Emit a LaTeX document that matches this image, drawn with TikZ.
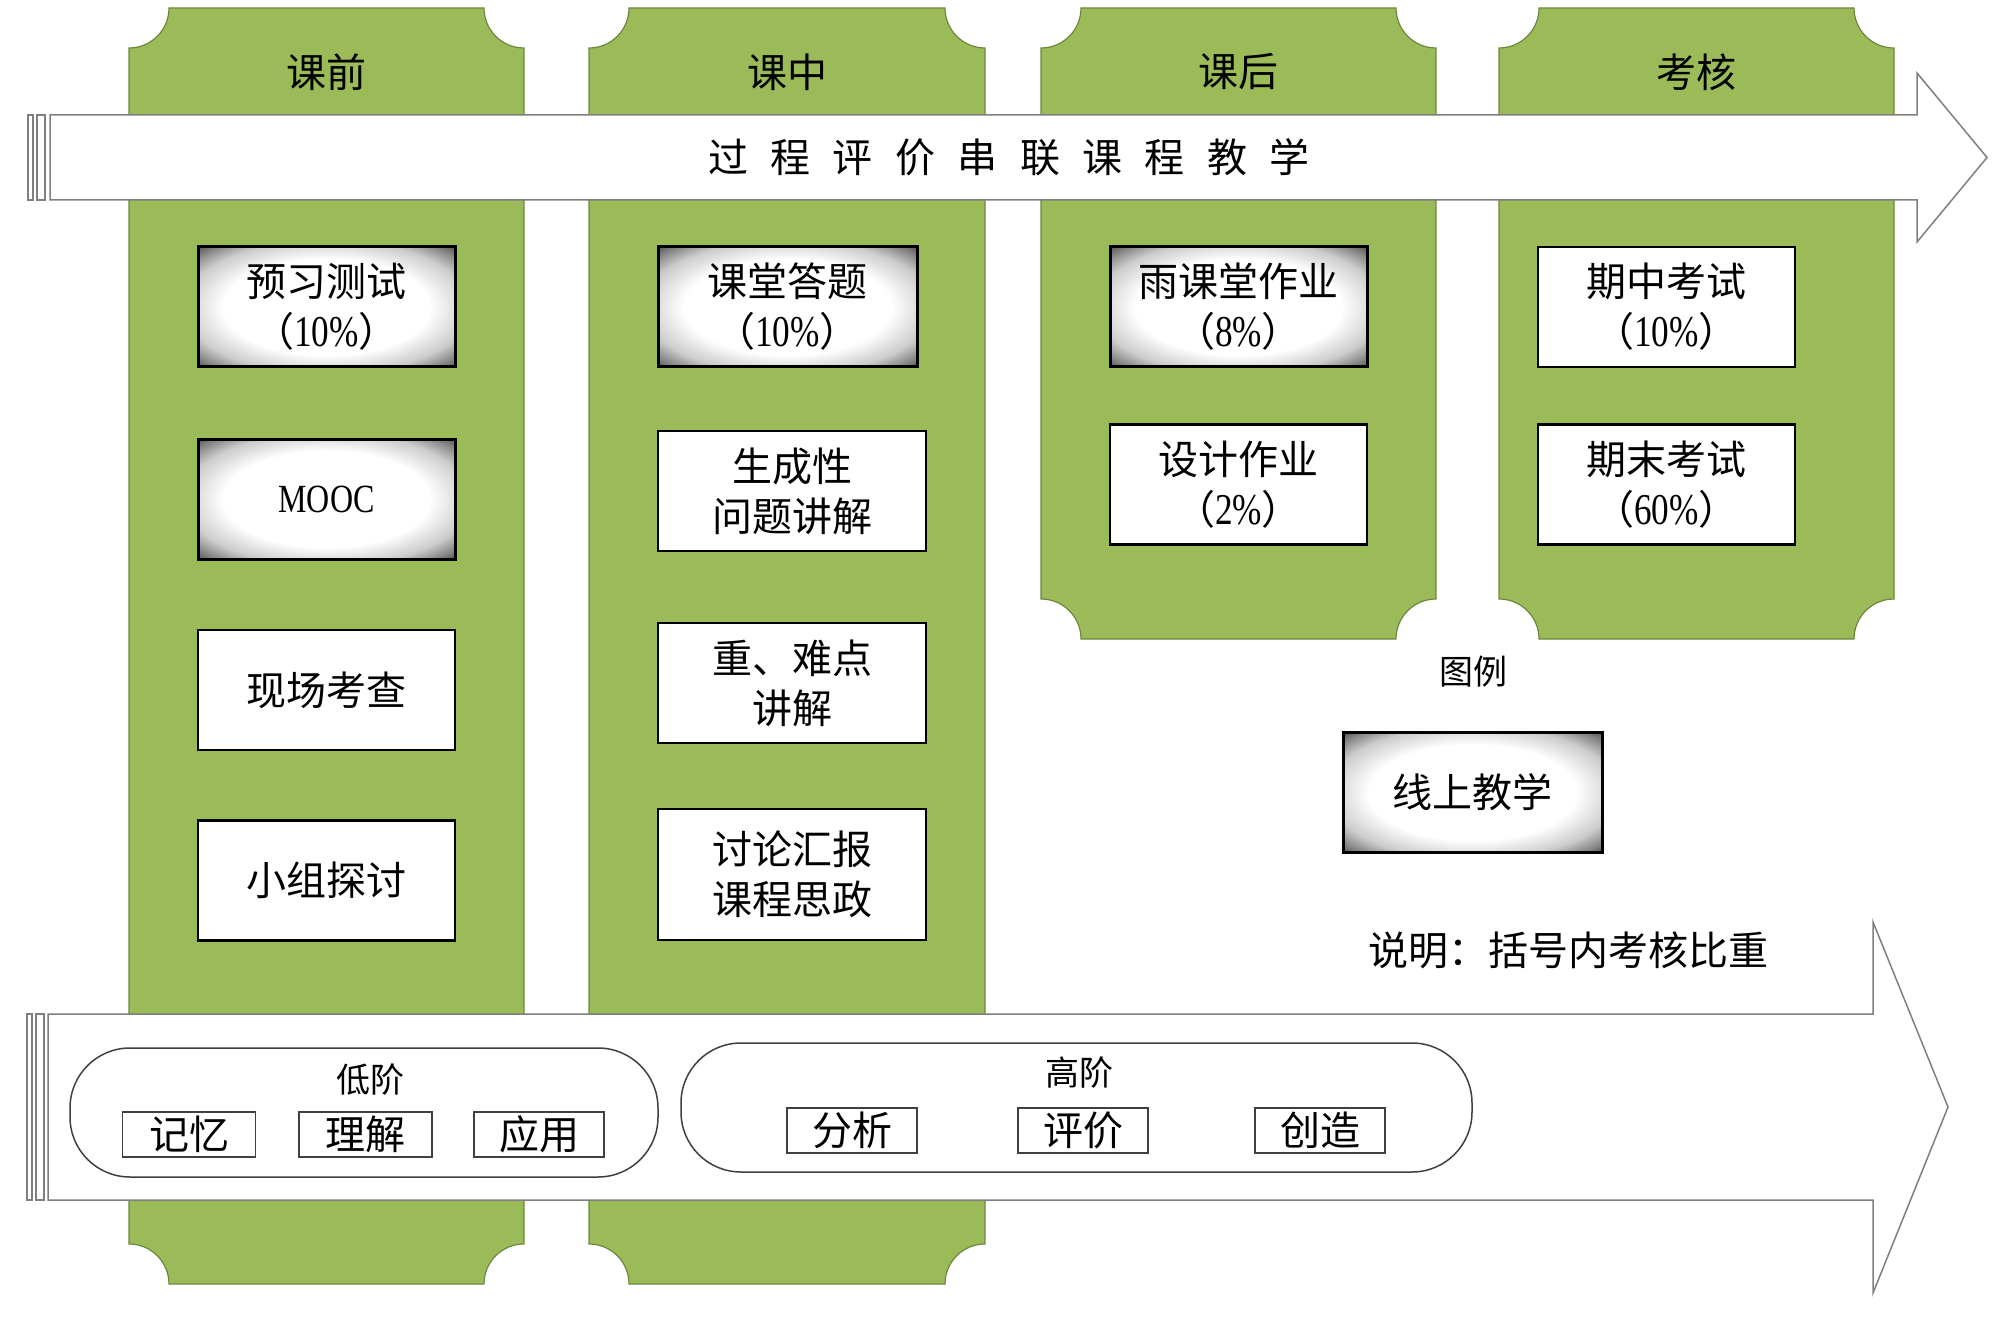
\documentclass[tikz,border=0pt]{standalone}
\usepackage{fontspec}
\setmainfont{Noto Sans CJK SC}
\newfontfamily\latin[FakeStretch=0.8]{Liberation Serif}
\newcommand{\pct}[1]{{\latin\fontsize{44}{50}\selectfont #1\%}}
\definecolor{Leaf}{HTML}{9BBB59}
\definecolor{LeafEdge}{HTML}{6E8740}
\definecolor{Rim}{HTML}{7F7F7F}
\definecolor{Ink}{HTML}{404040}
\pgfdeclareradialshading{glow}{\pgfpoint{0bp}{0bp}}{color(0bp)=(white); color(20bp)=(white);
  color(28bp)=(black!20); color(33bp)=(black!50); color(36bp)=(black!72); color(55bp)=(black!85)}

\begin{document}
\begin{tikzpicture}[x=1pt, y=1pt,
  phase/.style={fill=Leaf, draw=LeafEdge, line width=1.2pt},
  head/.style={font=\fontsize{40}{48}\selectfont},
  band/.style={fill=white, draw=Rim, line width=1.5pt},
  box/.style={rectangle, draw=black, line width=2.5pt, fill=white, inner sep=0pt,
     minimum width=257pt, minimum height=120pt, align=center, font=\fontsize{40}{50}\selectfont},
  glowbox/.style={box, line width=3pt, shading=glow},
  tier/.style={rectangle, rounded corners=60pt, draw=Ink, line width=1.5pt, fill=white,
     minimum height=129pt},
  level/.style={rectangle, draw=Ink, line width=1.2pt, fill=white, inner sep=0pt,
     minimum width=133pt, minimum height=45pt, font=\fontsize{40}{48}\selectfont},
  note/.style={font=\fontsize{34}{40}\selectfont}]
  \useasboundingbox (0,0) rectangle (2000,-1321);
  % phase columns with notched corners
  \foreach \xl/\xr/\yb in {129/524/-1284, 589/985/-1284, 1041/1436/-639, 1499/1894/-639}{
    \draw[phase] (\xl,-48) arc[start angle=270, end angle=360, radius=40pt] -- (\xr-40,-8)
      arc[start angle=180, end angle=270, radius=40pt] -- (\xr,\yb+40)
      arc[start angle=90, end angle=180, radius=40pt] -- (\xl+40,\yb)
      arc[start angle=0, end angle=90, radius=40pt] -- cycle;}
  \foreach \t/\x [count=\i] in {课前/326.5, 课中/787, 课后/1238.5, 考核/1696.5}
    \node[head] (head\i) at (\x,-72) {\t};
  % striped arrows
  \draw[band] (50,-115) -- (1917,-115) -- (1917,-73) -- (1987,-157.5) -- (1917,-242)
    -- (1917,-200) -- (50,-200) -- cycle;
  \draw[band] (28,-115) rectangle (33,-200) (37,-115) rectangle (45,-200);
  \node[head] (title) at (1009,-157.5)
    {\spaceskip=0.56em\relax 过 程 评 价 串 联 课 程 教 学};
  \draw[band] (48,-1014) -- (1873,-1014) -- (1873,-922) -- (1948,-1107) -- (1873,-1293)
    -- (1873,-1200) -- (48,-1200) -- cycle;
  \draw[band] (27,-1014) rectangle (32,-1200) (36,-1014) rectangle (44,-1200);

  % before class
  \node[glowbox] (yuxi) at (326.5,-307) {预习测试\\（\pct{10}）};
  \node[glowbox] (mooc) at (326.5,-499) {{\latin\fontsize{40}{48}\selectfont MOOC}};
  \node[box] (xianchang) at (326.5,-690) {现场考查};
  \node[box] (xiaozu) at (326.5,-880.5) {小组探讨};
  % in class
  \node[glowbox, minimum width=259pt] (dati) at (787.5,-307) {课堂答题\\（\pct{10}）};
  \node[box, minimum width=268pt] (shengcheng) at (792,-491) {生成性\\问题讲解};
  \node[box, minimum width=268pt] (zhongnan) at (792,-683) {重、难点\\讲解};
  \node[box, minimum width=268pt, minimum height=131pt] (taolun) at (792,-874.5) {讨论汇报\\课程思政};
  % after class
  \node[glowbox] (yuketang) at (1238.5,-307) {雨课堂作业\\（\pct{8}）};
  \node[box] (sheji) at (1238.5,-484.5) {设计作业\\（\pct{2}）};
  % assessment
  \node[box] (qizhong) at (1666.5,-307) {期中考试\\（\pct{10}）};
  \node[box] (qimo) at (1666.5,-484.5) {期末考试\\（\pct{60}）};

  % legend
  \node[note] (tuli) at (1473,-672) {图例};
  \node[glowbox, minimum width=259pt] (xianshang) at (1472.5,-792.5) {线上教学};
  \node[head] (shuoming) at (1568,-950) {说明：括号内考核比重};

  % cognitive levels
  \node[tier, minimum width=588pt] (low) at (364,-1112.5) {};
  \node[note] (lowlab) at (370,-1080) {低阶};
  \node[level] (jiyi) at (189,-1134.5) {记忆};
  \node[level] (lijie) at (365.5,-1134.5) {理解};
  \node[level, minimum width=130pt] (yingyong) at (539,-1134.5) {应用};
  \node[tier, minimum width=791pt] (high) at (1076.5,-1107.5) {};
  \node[note] (highlab) at (1079,-1073) {高阶};
  \node[level, minimum width=130pt] (fenxi) at (852,-1130.5) {分析};
  \node[level, minimum width=130pt] (pingjia) at (1083,-1130.5) {评价};
  \node[level, minimum width=130pt] (chuangzao) at (1320,-1130.5) {创造};
\end{tikzpicture}
\end{document}
